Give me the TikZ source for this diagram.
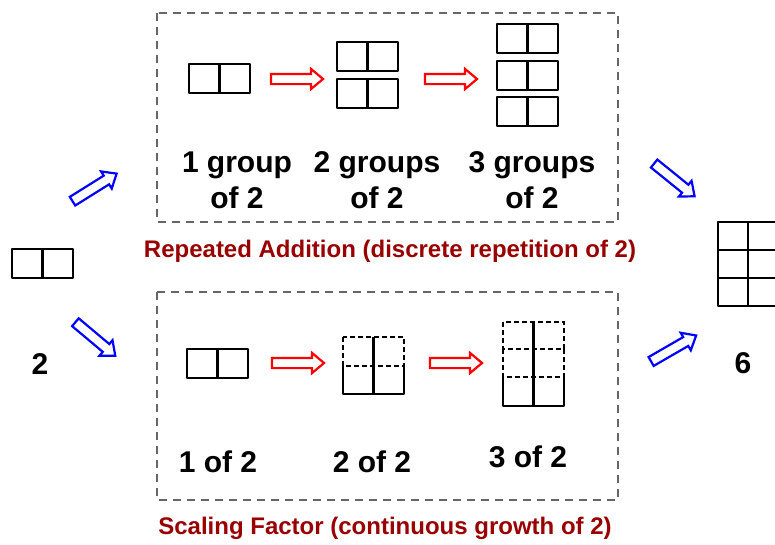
\documentclass[tikz,border=0pt]{standalone}
\usepackage{fontspec}
\setmainfont{Liberation Sans}
\usetikzlibrary{shapes.arrows}
\definecolor{framegray}{HTML}{666666}
\definecolor{labelred}{HTML}{990000}
% two cells side by side, top left corner at (#1,#2)
\newcommand{\pairbox}[2]{%
  \draw[cell] (#1,#2) rectangle ++(61,29);
  \draw[cell] (#1+30.5,#2) -- ++(0,29);}

\begin{document}
\begin{tikzpicture}[x=1pt,y=-1pt,
  cell/.style={line width=2.4pt, line join=round},
  ghost/.style={line width=1.8pt, dash pattern=on 5pt off 3pt},
  frame/.style={draw=framegray, line width=2.2pt, dash pattern=on 8pt off 6pt},
  blockarrow/.style={single arrow, draw, fill=white, line width=2.2pt,
    inner xsep=0pt, inner ysep=4pt, minimum height=52pt,
    single arrow head extend=5pt, single arrow tip angle=80},
  redarrow/.style={blockarrow, draw=red},
  bluearrow/.style={blockarrow, draw=blue},
  count/.style={font=\bfseries\fontsize{30}{36}\selectfont, align=center},
  title/.style={text=labelred, font=\bfseries\fontsize{24}{26}\selectfont},
  number/.style={font=\bfseries\fontsize{30}{30}\selectfont}]
\useasboundingbox (0,0) rectangle (775,544);

% frames
\draw[frame] (157,13) rectangle (618,222);
\draw[frame] (157,292) rectangle (618,500);

% start: 2
\pairbox{12}{249}
\node[number] (two) at (40,364) {2};
\node[bluearrow, rotate=32] (upin) at (92,189) {};
\node[bluearrow, rotate=-40] (downin) at (93,337) {};

% repeated addition
\pairbox{189}{64}
\pairbox{337}{42}\pairbox{337}{79}
\pairbox{497}{24}\pairbox{497}{61}\pairbox{497}{97}
\node[redarrow] (ra1) at (294,79) {};
\node[redarrow] (ra2) at (448,79) {};
\node[count] (g1) at (237,180) {1 group\\of 2};
\node[count] (g2) at (377,180) {2 groups\\of 2};
\node[count] (g3) at (532,180) {3 groups\\of 2};
\node[title] (rep) at (390,251) {Repeated Addition (discrete repetition of 2)};

% scaling factor
\pairbox{187}{349}
\draw[ghost] (343,337) rectangle (404,366);
\draw[cell] (343,366) -- (343,394) -- (404,394) -- (404,366);
\draw[cell] (373.5,337) -- (373.5,394);
\draw[ghost] (503,322) rectangle (564,349);
\draw[ghost] (503,349) rectangle (564,377);
\draw[cell] (503,377) -- (503,406) -- (564,406) -- (564,377);
\draw[cell] (533.5,322) -- (533.5,406);
\node[redarrow] (sa1) at (295,363) {};
\node[redarrow] (sa2) at (453,363) {};
\node[count] (s1) at (218,462) {1 of 2};
\node[count] (s2) at (372,462) {2 of 2};
\node[count] (s3) at (528,457) {3 of 2};
\node[title] (scl) at (385,528) {Scaling Factor (continuous growth of 2)};

% result: 6
\node[bluearrow, rotate=-39] (upout) at (672,178) {};
\node[bluearrow, rotate=30] (downout) at (671,350) {};
\draw[cell] (718,222) rectangle (778,306);
\draw[cell] (748,222) -- (748,306);
\draw[cell] (718,250) -- (778,250);
\draw[cell] (718,278) -- (778,278);
\node[number] (six) at (743,363) {6};
\end{tikzpicture}
\end{document}
